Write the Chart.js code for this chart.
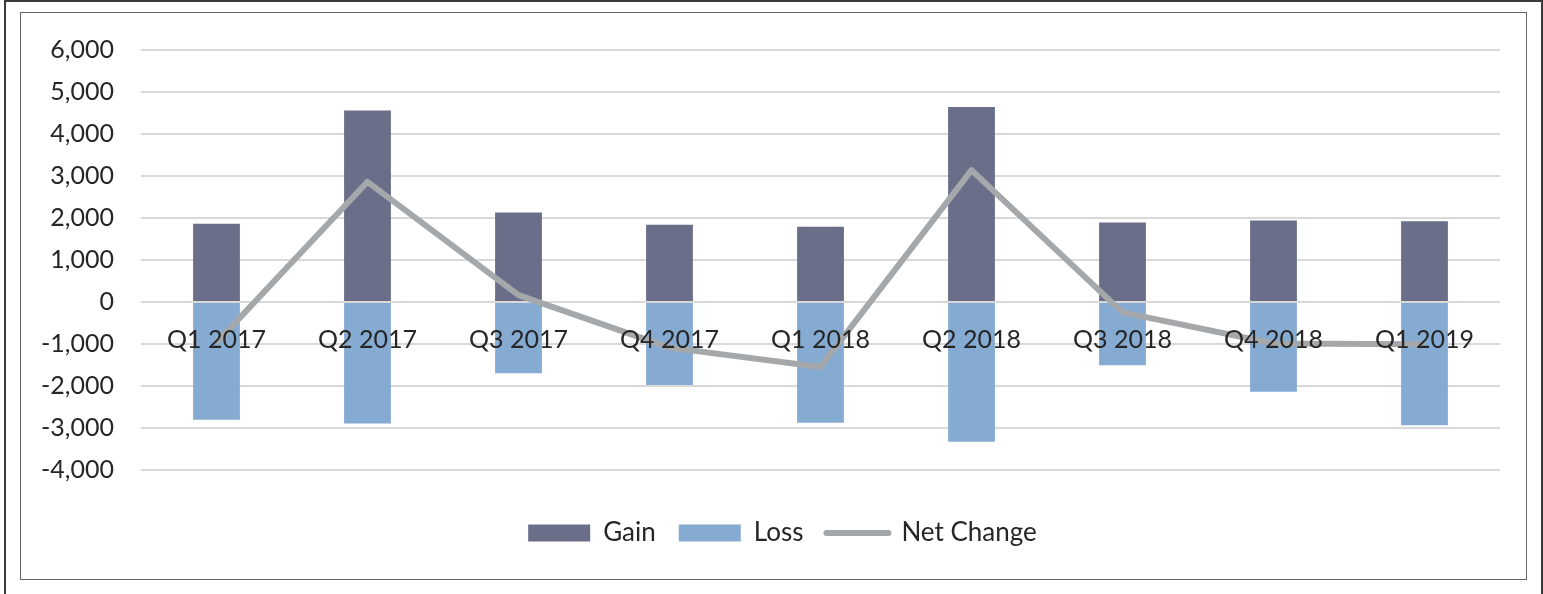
<!DOCTYPE html>
<html>
<head>
<meta charset="utf-8">
<script src="https://cdn.jsdelivr.net/npm/chart.js@4.4.1/dist/chart.umd.min.js"></script>
<style>
  html, body { margin: 0; padding: 0; background: #fff; }
  body { width: 1543px; height: 594px; position: relative; overflow: hidden; }
  #outer { position: absolute; left: 4px; top: 0; width: 1535px; height: 600px; border: 2px solid #3a3a3a; }
  #frame { position: absolute; left: 20px; top: 12px; width: 1505px; height: 566px; border: 1px solid #666; }
  #wrap { position: absolute; left: 21px; top: 8px; width: 1504px; height: 565px; }
</style>
</head>
<body>
<div id="outer"></div>
<div id="frame"></div>
<div id="wrap"><canvas id="chart"></canvas></div>
<script>
// data
const categories = ['Q1 2017', 'Q2 2017', 'Q3 2017', 'Q4 2017', 'Q1 2018', 'Q2 2018', 'Q3 2018', 'Q4 2018', 'Q1 2019'];
const gain = [1860, 4560, 2130, 1840, 1790, 4640, 1890, 1940, 1920];
const loss = [-2810, -2900, -1700, -1980, -2880, -3330, -1510, -2140, -2940];
const netChange = [-970, 2860, 160, -1090, -1550, 3140, -250, -990, -1010];

const Y_MIN = -4000;
const Y_MAX = 6000;
const Y_STEP = 1000;

const TEXT = '#262626';
const FONT = 'Lato';
const NET_WIDTH = 6;

// legend sits a bit right of centre in the original
const legendShift = {
    id: 'legendShift',
    afterLayout(c) { c.legend.left += 44; }
};

const ctx = document.getElementById('chart').getContext('2d');

let chart = new Chart(ctx, {
    data: {
        labels: categories,
        datasets: [
            {
                type: 'bar',
                label: 'Gain',
                data: gain,
                backgroundColor: '#6A6E89',
                borderWidth: 0,
                stack: 'gl',
                order: 1,
                barPercentage: 0.31,
                categoryPercentage: 1
            },
            {
                type: 'bar',
                label: 'Loss',
                data: loss,
                backgroundColor: '#86ABD3',
                borderWidth: 0,
                stack: 'gl',
                order: 1,
                barPercentage: 0.31,
                categoryPercentage: 1
            },
            {
                type: 'line',
                label: 'Net Change',
                data: netChange,
                borderColor: '#A5A8AA',
                backgroundColor: '#A5A8AA',
                borderWidth: NET_WIDTH,
                borderJoinStyle: 'round',
                pointRadius: 0,
                stack: 'net',
                order: 0,
                tension: 0
            }
        ]
    },
    plugins: [legendShift],
    options: {
        responsive: true,
        maintainAspectRatio: false,
        animation: false,
        layout: { padding: { top: 30, right: 25, bottom: 17, left: 0 } },
        plugins: {
            tooltip: { enabled: false },
            legend: {
                position: 'bottom',
                title: { display: true, text: '', font: { size: 1 }, padding: { top: 0, bottom: 26 } },
                labels: {
                    usePointStyle: true,
                    pointStyleWidth: 62,
                    boxHeight: 17,
                    padding: 23,
                    color: TEXT,
                    font: { family: FONT, size: 26 },
                    generateLabels: (c) => c.data.datasets.map((ds, i) => ({
                        text: ds.label,
                        fillStyle: ds.backgroundColor,
                        strokeStyle: ds.type === 'line' ? ds.borderColor : ds.backgroundColor,
                        lineWidth: ds.type === 'line' ? NET_WIDTH : 0,
                        lineCap: 'round',
                        pointStyle: ds.type === 'line' ? 'line' : 'rect',
                        fontColor: TEXT,
                        hidden: false,
                        datasetIndex: i
                    }))
                }
            }
        },
        scales: {
            x: {
                stacked: true,
                position: { y: 0 },
                offset: true,
                grid: { display: false },
                border: { display: false },
                ticks: { z: 1, color: TEXT, font: { family: FONT, size: 25 }, padding: 15, maxRotation: 0 }
            },
            y: {
                stacked: true,
                min: Y_MIN,
                max: Y_MAX,
                grid: { color: '#D9D9D9', lineWidth: 2, drawTicks: false },
                border: { display: false },
                ticks: {
                    stepSize: Y_STEP,
                    padding: 27,
                    color: TEXT,
                    font: { family: FONT, size: 25 },
                    callback: (v) => v.toLocaleString('en-US')
                },
                afterFit: (scale) => { scale.width = 120; }
            }
        }
    }
});
</script>
</body>
</html>
